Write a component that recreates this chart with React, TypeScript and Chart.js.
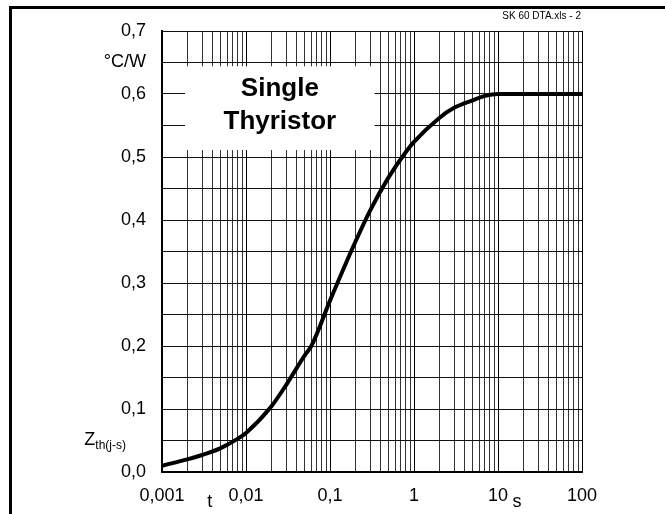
import React, { useEffect, useRef } from "react";
import { Chart, registerables } from "chart.js";
Chart.register(...registerables);

// ---- data ----
const times = [0.001, 0.002, 0.003, 0.005, 0.008, 0.01, 0.02, 0.03, 0.05, 0.06, 0.1, 0.2, 0.3, 0.5, 0.8, 1, 2, 3, 5, 7, 10, 100];
const zth = [0.01, 0.02, 0.027, 0.038, 0.053, 0.062, 0.104, 0.138, 0.185, 0.2, 0.272, 0.365, 0.415, 0.468, 0.508, 0.524, 0.562, 0.578, 0.59, 0.597, 0.6, 0.6];

const xDecades = [0.001, 0.01, 0.1, 1, 10, 100];
const xTickLabels = ["0,001", "0,01", "0,1", "1", "10", "100"];
const yTickValues = [0, 0.1, 0.2, 0.3, 0.4, 0.5, 0.6, 0.7];
const yTickLabels = ["0,0", "0,1", "0,2", "0,3", "0,4", "0,5", "0,6", "0,7"];
const titleLines = ["Single", "Thyristor"];
const yUnit = "°C/W";
const ySymbol = "Z";
const ySubscript = "th(j-s)";
const xSymbol = "t";
const xUnit = "s";
const sheetNote = "SK 60 DTA.xls - 2";

const FONT = "Arial, 'Liberation Sans', Helvetica, sans-serif";

function isDecade(v: number) {
  return xDecades.some((d) => Math.abs(Math.log10(d) - Math.log10(v)) < 1e-6);
}

const extrasPlugin = {
  id: "extras",
  afterDraw(chart: any) {
    const ctx = chart.ctx;
    const xs = chart.scales.x;
    const ys = chart.scales.y;
    ctx.save();
    // white label box
    const bx0 = xs.getPixelForValue(0.00188);
    const bx1 = xs.getPixelForValue(0.34);
    const by0 = ys.getPixelForValue(0.644);
    const by1 = ys.getPixelForValue(0.511);
    ctx.fillStyle = "#fff";
    ctx.fillRect(bx0, by0, bx1 - bx0, by1 - by0);
    ctx.fillStyle = "#000";
    ctx.font = `bold 26px ${FONT}`;
    ctx.textAlign = "center";
    ctx.textBaseline = "alphabetic";
    const cx = (bx0 + bx1) / 2;
    ctx.fillText(titleLines[0], cx, by0 + 30);
    ctx.fillText(titleLines[1], cx, by0 + 63);

    // axis captions
    ctx.font = `18px ${FONT}`;
    ctx.textAlign = "right";
    ctx.textBaseline = "middle";
    ctx.fillText(yUnit, 146, ys.getPixelForValue(0.65));
    const zy = ys.getPixelForValue(0.05);
    ctx.font = `12px ${FONT}`;
    const subW = ctx.measureText(ySubscript).width;
    ctx.textAlign = "left";
    ctx.fillText(ySubscript, 126 - subW, zy + 5);
    ctx.font = `18px ${FONT}`;
    ctx.textAlign = "right";
    ctx.fillText(ySymbol, 126 - subW, zy);

    ctx.textAlign = "center";
    ctx.textBaseline = "alphabetic";
    ctx.fillText(xSymbol, xs.getPixelForValue(0.0037), 507);
    ctx.fillText(xUnit, xs.getPixelForValue(16.8), 507);

    ctx.font = `10px ${FONT}`;
    ctx.textAlign = "right";
    ctx.fillText(sheetNote, xs.right - 1, 19);

    // frame of the sheet
    ctx.fillStyle = "#000";
    ctx.fillRect(9, 6, 3, 508);
    ctx.fillRect(9, 6, 656, 3);
    ctx.restore();
  },
};

export default function App() {
  const ref = useRef<HTMLCanvasElement | null>(null);
  useEffect(() => {
    if (!ref.current) return;
    const points = times.map((t, i) => ({ x: t, y: zth[i] }));
    const chart = new Chart(ref.current, {
      type: "line",
      data: {
        datasets: [
          {
            data: points,
            borderColor: "#000",
            borderWidth: 4,
            pointRadius: 0,
            cubicInterpolationMode: "monotone",
            fill: false,
          },
        ],
      },
      options: {
        animation: false,
        responsive: true,
        maintainAspectRatio: false,
        layout: { padding: { left: 0, right: 83, top: 31, bottom: 0 } },
        plugins: { legend: { display: false }, tooltip: { enabled: false } },
        scales: {
          x: {
            type: "logarithmic",
            min: 0.001,
            max: 100,
            afterBuildTicks: (scale: any) => {
              const ticks: any[] = [];
              for (let i = 0; i < xDecades.length - 1; i++) {
                for (let m = 1; m <= 9; m++) ticks.push({ value: xDecades[i] * m });
              }
              ticks.push({ value: xDecades[xDecades.length - 1] });
              scale.ticks = ticks;
            },
            afterFit: (scale: any) => {
              scale.height = 42;
            },
            ticks: {
              autoSkip: false,
              maxRotation: 0,
              padding: 13,
              color: "#000",
              font: { family: FONT, size: 18 },
              callback: (v: any) => {
                const idx = xDecades.findIndex((d) => Math.abs(Math.log10(d) - Math.log10(Number(v))) < 1e-6);
                return idx >= 0 ? xTickLabels[idx] : "";
              },
            },
            grid: {
              drawTicks: false,
              color: (c: any) => (c.tick && isDecade(c.tick.value) ? "#000" : "#333"),
              lineWidth: 1,
            },
            border: { display: true, color: "#000", width: 2 },
          },
          y: {
            type: "linear",
            min: 0,
            max: 0.7,
            afterFit: (scale: any) => {
              scale.width = 162;
            },
            ticks: {
              stepSize: 0.05,
              padding: 16,
              color: "#000",
              font: { family: FONT, size: 18 },
              callback: (v: any) => {
                const idx = yTickValues.findIndex((t) => Math.abs(t - Number(v)) < 1e-6);
                return idx >= 0 ? yTickLabels[idx] : "";
              },
            },
            grid: { drawTicks: false, color: "#111", lineWidth: 1 },
            border: { display: true, color: "#000", width: 2 },
          },
        },
      },
      plugins: [extrasPlugin],
    });
    return () => chart.destroy();
  }, []);
  return (
    <div style={{ position: "absolute", left: 0, top: 0, width: 665, height: 514, background: "#fff" }}>
      <canvas ref={ref} />
    </div>
  );
}
